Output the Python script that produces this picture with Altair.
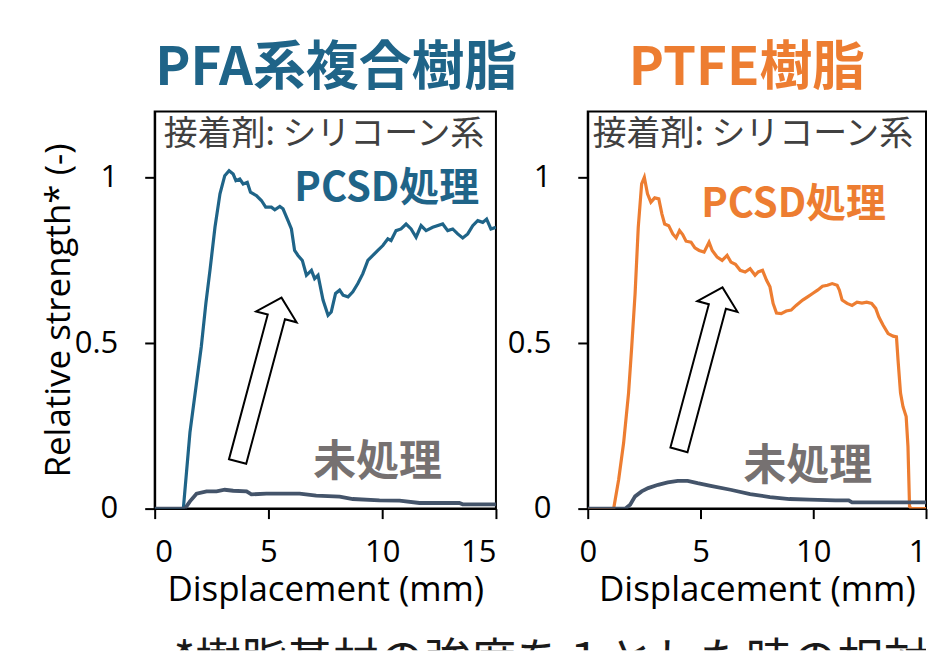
import altair as alt
import pandas as pd

# ---------------- data ----------------
pfa_pcsd_x = [0, 1.26, 1.55, 1.80, 2.05, 2.25, 2.43, 2.65, 2.87, 3.08, 3.27, 3.45, 3.57, 3.74, 3.89,
              4.07, 4.21, 4.47, 4.69, 4.88, 5.13, 5.28, 5.50, 5.64, 5.86, 6.01, 6.15, 6.30, 6.49, 6.67,
              6.89, 7.03, 7.18, 7.40, 7.62, 7.76, 7.95, 8.13, 8.28, 8.50, 8.71, 8.93, 9.15, 9.37, 9.59,
              9.81, 10.03, 10.25, 10.39, 10.61, 10.83, 11.05, 11.27, 11.49, 11.71, 11.93, 12.22, 12.66,
              12.88, 13.10, 13.32, 13.54, 13.76, 13.98, 14.20, 14.42, 14.59, 14.78, 15.0]
pfa_pcsd_y = [0, 0, 0.23, 0.36, 0.49, 0.62, 0.72, 0.85, 0.951, 1.006, 1.021, 1.011, 0.991, 0.996, 0.981,
              0.986, 0.956, 0.946, 0.931, 0.911, 0.911, 0.903, 0.913, 0.906, 0.870, 0.845, 0.78, 0.765,
              0.75, 0.705, 0.72, 0.695, 0.705, 0.63, 0.584, 0.594, 0.65, 0.66, 0.645, 0.64, 0.655, 0.68,
              0.71, 0.75, 0.765, 0.78, 0.795, 0.815, 0.81, 0.84, 0.845, 0.86, 0.845, 0.82, 0.855, 0.84,
              0.85, 0.86, 0.84, 0.845, 0.83, 0.818, 0.83, 0.855, 0.87, 0.865, 0.875, 0.845, 0.85]

pfa_un_x = [0, 1.33, 1.55, 1.84, 2.28, 2.72, 3.08, 3.45, 4.04, 4.25, 4.91, 6.37, 7.10, 8.13, 8.71,
            9.88, 10.76, 11.64, 13.39, 13.54, 15.0]
pfa_un_y = [0, 0, 0.022, 0.045, 0.052, 0.052, 0.057, 0.054, 0.052, 0.043, 0.045, 0.045, 0.039, 0.036,
            0.029, 0.025, 0.024, 0.017, 0.017, 0.013, 0.013]

ptfe_pcsd_x = [0, 1.15, 1.37, 1.59, 1.81, 1.95, 2.10, 2.24, 2.39, 2.51, 2.65, 2.80, 2.97, 3.15, 3.29,
               3.41, 3.59, 3.77, 3.92, 4.07, 4.21, 4.36, 4.58, 4.75, 4.94, 5.16, 5.38, 5.52, 5.74, 5.96,
               6.18, 6.35, 6.55, 6.76, 6.98, 7.20, 7.42, 7.56, 7.75, 7.93, 8.08, 8.22, 8.37, 8.58, 8.80,
               9.02, 9.24, 9.53, 9.75, 9.97, 10.19, 10.41, 10.63, 10.84, 11.06, 11.16, 11.28, 11.50,
               11.72, 11.94, 12.16, 12.37, 12.59, 12.77, 12.91, 13.10, 13.32, 13.54, 13.69, 13.76,
               13.87, 13.98, 14.12, 14.20, 14.27, 14.34, 15.0]
ptfe_pcsd_y = [0, 0, 0.087, 0.198, 0.349, 0.489, 0.65, 0.85, 0.981, 1.001, 0.951, 0.926, 0.939, 0.936,
               0.89, 0.86, 0.855, 0.83, 0.818, 0.84, 0.828, 0.808, 0.805, 0.788, 0.78, 0.775, 0.805,
               0.78, 0.76, 0.75, 0.765, 0.745, 0.738, 0.72, 0.715, 0.725, 0.705, 0.715, 0.72, 0.69,
               0.67, 0.62, 0.591, 0.589, 0.597, 0.60, 0.614, 0.63, 0.64, 0.65, 0.66, 0.672, 0.675,
               0.68, 0.675, 0.66, 0.63, 0.62, 0.614, 0.624, 0.621, 0.624, 0.62, 0.605, 0.579, 0.554,
               0.529, 0.521, 0.519, 0.449, 0.349, 0.308, 0.278, 0.188, 0.007, 0, 0]

ptfe_un_x = [0, 1.66, 1.88, 2.10, 2.39, 2.68, 3.12, 3.55, 3.99, 4.43, 4.87, 5.45, 6.33, 7.20, 8.08,
             8.95, 9.83, 10.99, 11.57, 11.72, 15.0]
ptfe_un_y = [0, 0, 0.012, 0.037, 0.052, 0.062, 0.072, 0.079, 0.084, 0.084, 0.077, 0.069, 0.057, 0.044,
             0.035, 0.029, 0.027, 0.025, 0.025, 0.019, 0.019]

x_ticks = [0, 5, 10, 15]
y_ticks = [0, 0.5, 1]

panel_titles = ["PFA系複合樹脂", "PTFE樹脂"]
adhesive_label = "接着剤: シリコーン系"
treated_label = "PCSD処理"
untreated_label = "未処理"
footnote = "*樹脂基材の強度を１とした時の相対値"

# annotation anchor points, in data units (mm, relative strength)
pfa_labels = {"adh": (0.40, 1.13), "pcsd": (6.14, 0.967), "un": (6.97, 0.139), "arrow": (4.61, 0.390)}
ptfe_labels = {"adh": (0.22, 1.13), "pcsd": (5.03, 0.916), "un": (6.91, 0.127), "arrow": (5.01, 0.423)}

# ---------------- style ----------------
BLUE = "#1f6488"
ORANGE = "#ed7d31"
SLATE = "#44546a"
GRAYTXT = "#767171"
JP = "Noto Sans CJK JP"
LAT = "Open Sans"
ARROW = "M-0.105,1 L0.105,1 L0.105,-0.765 L0.247,-0.765 L0,-1 L-0.247,-0.765 L-0.105,-0.765 Z"
H = 398
GAP_BELOW = 121   # from plot bottom to the (cut) footnote strip


def panel(px, py, ux, uy, color, title, title_dx, labels, width, ytitle, arrow_size, arrow_angle,
          cut_last):
    xaxis = dict(values=x_ticks, title="Displacement (mm)", labelPadding=19, titlePadding=5)
    if cut_last:
        xaxis["labelExpr"] = "datum.value == 15 ? '1' : datum.label"
        xaxis["labelAlign"] = {"condition": {"test": "datum.value == 15", "value": "right"},
                               "value": "center"}
    xs = alt.X("d:Q", scale=alt.Scale(domain=[0, 15], nice=False), axis=alt.Axis(**xaxis))
    ys = alt.Y("s:Q", scale=alt.Scale(domain=[0, 1.2], nice=False),
               axis=alt.Axis(values=y_ticks, format="~g", title=ytitle, labelPadding=27,
                             titlePadding=-2))
    pc = alt.Chart(pd.DataFrame({"d": px, "s": py})).mark_line(
        color=color, strokeWidth=3.2, clip=True).encode(x=xs, y=ys)
    un = alt.Chart(pd.DataFrame({"d": ux, "s": uy})).mark_line(
        color=SLATE, strokeWidth=3.8, clip=True).encode(x="d:Q", y="s:Q")

    def txt(key, label, size, col, weight):
        d, s = labels[key]
        return alt.Chart(pd.DataFrame({"d": [d], "s": [s], "t": [label]})).mark_text(
            align="left", baseline="middle", font=JP, fontSize=size, fontWeight=weight, color=col
        ).encode(x="d:Q", y="s:Q", text="t:N")

    adh = txt("adh", adhesive_label, 34, "#404040", "normal")
    pl = txt("pcsd", treated_label, 40, color, "bold")
    ul = txt("un", untreated_label, 43, GRAYTXT, "bold")
    ad, as_ = labels["arrow"]
    arrow = alt.Chart(pd.DataFrame({"d": [ad], "s": [as_]})).mark_point(
        shape=ARROW, filled=True, fill="white", stroke="black", strokeWidth=2, opacity=1,
        size=arrow_size, angle=arrow_angle
    ).encode(x="d:Q", y="s:Q")

    return alt.layer(pc, un, adh, pl, ul, arrow).properties(
        width=width, height=H,
        title=alt.TitleParams(title, font=JP, fontSize=53, fontWeight="bold", color=color,
                              anchor="middle", dx=title_dx, offset=16)
    )


left = panel(pfa_pcsd_x, pfa_pcsd_y, pfa_un_x, pfa_un_y, BLUE, panel_titles[0], 11,
             pfa_labels, 342, "Relative strength* (-)", 28900, 15, False)
right = panel(ptfe_pcsd_x, ptfe_pcsd_y, ptfe_un_x, ptfe_un_y, ORANGE, panel_titles[1], -10,
              ptfe_labels, 339, "", 28426, 15, True)

# footnote: only its upper part is visible in the reference (cut by the frame)
strip = alt.Chart(pd.DataFrame({"t": [footnote]})).mark_text(
    align="left", baseline="alphabetic", font=JP, fontSize=46, color="#1a1a1a", clip=True
).encode(text="t:N", x=alt.value(19), y=alt.value(47)).properties(
    width=773, height=21, view=alt.ViewBackground(stroke="transparent")
)

panels = alt.hconcat(left, right, spacing=92, bounds="flush")

chart = alt.vconcat(panels, strip, spacing=H + GAP_BELOW, bounds="flush").properties(
    padding={"left": 32, "top": 33, "right": 0, "bottom": 0},
).configure_view(stroke="black", strokeWidth=2).configure_axis(
    grid=False, domainColor="black", domainWidth=2, tickColor="black", tickWidth=2, tickSize=10,
    labelFont=LAT, labelFontSize=31, labelColor="black", titleFont=LAT, titleFontSize=35,
    titleFontWeight="normal", titleColor="black"
)

chart.save("out.html", embed_options={"renderer": "svg", "actions": False})
